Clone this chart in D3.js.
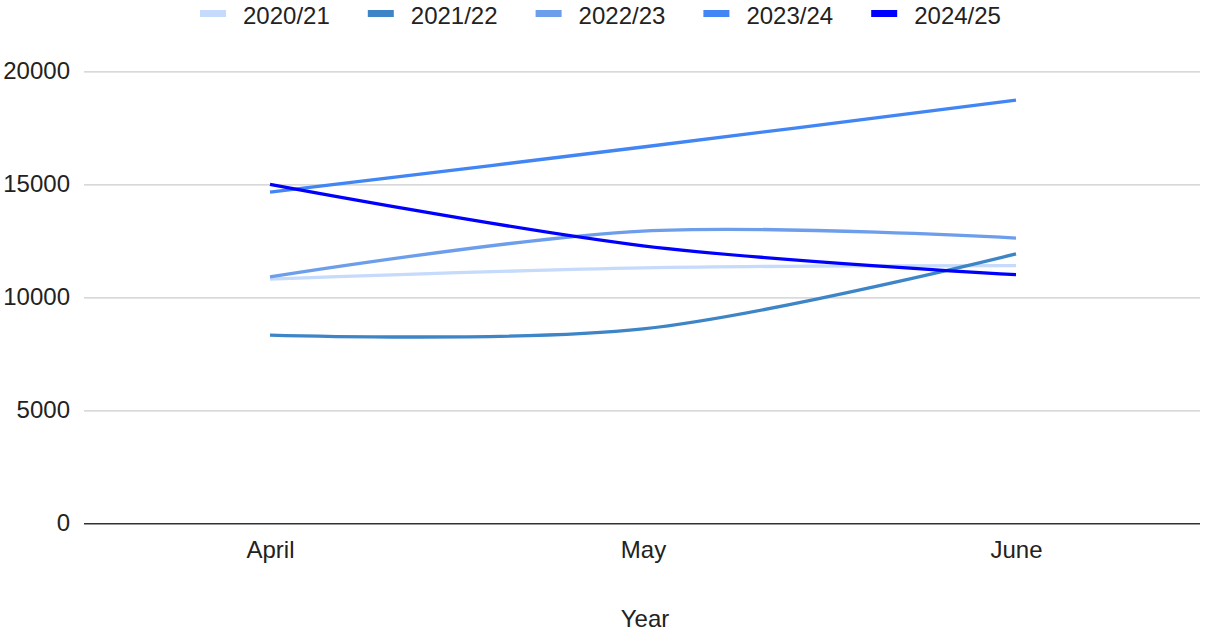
<!DOCTYPE html>
<html>
<head>
<meta charset="utf-8">
<script src="https://cdn.jsdelivr.net/npm/d3@7"></script>
<style>
  body { margin: 0; background: #fff; }
  svg text { font-family: Arial, "Liberation Sans", sans-serif; fill: #222; }
</style>
</head>
<body>
<div id="container"></div>
<script>
(function() {

let months = ["April", "May", "June"];
let seriesNames = ["2020/21", "2021/22", "2022/23", "2023/24", "2024/25"];
let seriesColors = ["#c6dafc", "#3d85c6", "#6d9eeb", "#4285f4", "#0000ff"];

let v2020 = [10800, 11300, 11400];
let v2021 = [8330, 8600, 11920];
let v2022 = [10900, 12930, 12620];
let v2023 = [14650, 16650, 18720];
let v2024 = [15000, 12280, 11000];
let seriesValues = [v2020, v2021, v2022, v2023, v2024];

let yTicks = [0, 5000, 10000, 15000, 20000];

let width = 1205;
let height = 633;
let svg = d3.select("#container")
  .append("svg")
    .attr("width", width)
    .attr("height", height);

let plotLeft = 84, plotRight = 1200, plotTop = 71.3, plotBottom = 523.3;

let x = d3.scalePoint()
  .domain(months)
  .range([270, 1016]);
let y = d3.scaleLinear()
  .domain([0, 20000])
  .range([plotBottom, plotTop]);

// gridlines + y labels
let yAxis = svg.append("g")
  .attr("transform", "translate(" + plotLeft + ",0)")
  .call(d3.axisLeft(y)
    .tickValues(yTicks)
    .tickFormat(d3.format("d"))
    .tickSize(-(plotRight - plotLeft))
    .tickPadding(14));
yAxis.select(".domain").remove();
yAxis.selectAll(".tick line")
  .attr("stroke", (d) => d === 0 ? "#333" : "#ccc")
  .attr("stroke-width", (d) => d === 0 ? 1.5 : 1.3);
yAxis.selectAll(".tick text")
  .attr("font-size", 24)
  .attr("fill", "#222");

// x labels
let xAxis = svg.append("g")
  .attr("transform", "translate(0," + plotBottom + ")")
  .call(d3.axisBottom(x).tickSize(0).tickPadding(18));
xAxis.select(".domain").remove();
xAxis.selectAll(".tick text")
  .attr("font-size", 24)
  .attr("fill", "#222");

svg.append("text")
  .attr("x", 645)
  .attr("y", 627)
  .attr("text-anchor", "middle")
  .attr("font-size", 24)
  .text("Year");

// lines
let line = d3.line()
  .x((d, i) => x(months[i]))
  .y((d) => y(d))
  .curve(d3.curveCatmullRom.alpha(0.5));

svg.append("g")
  .selectAll("path")
  .data(seriesValues)
  .enter()
  .append("path")
    .attr("d", (d) => line(d))
    .attr("fill", "none")
    .attr("stroke", (d, i) => seriesColors[i])
    .attr("stroke-width", 3.3)
    .attr("stroke-linecap", "butt");

// legend
let legend = svg.append("g")
  .selectAll("g")
  .data(seriesNames)
  .enter()
  .append("g")
    .attr("transform", (d, i) => "translate(" + (200 + i * 167.8) + ",0)");
legend.append("rect")
  .attr("x", 0)
  .attr("y", 10)
  .attr("width", 26)
  .attr("height", 7)
  .attr("fill", (d, i) => seriesColors[i]);
legend.append("text")
  .attr("x", 43)
  .attr("y", 24)
  .attr("font-size", 24)
  .text((d) => d);

})();
</script>
</body>
</html>
